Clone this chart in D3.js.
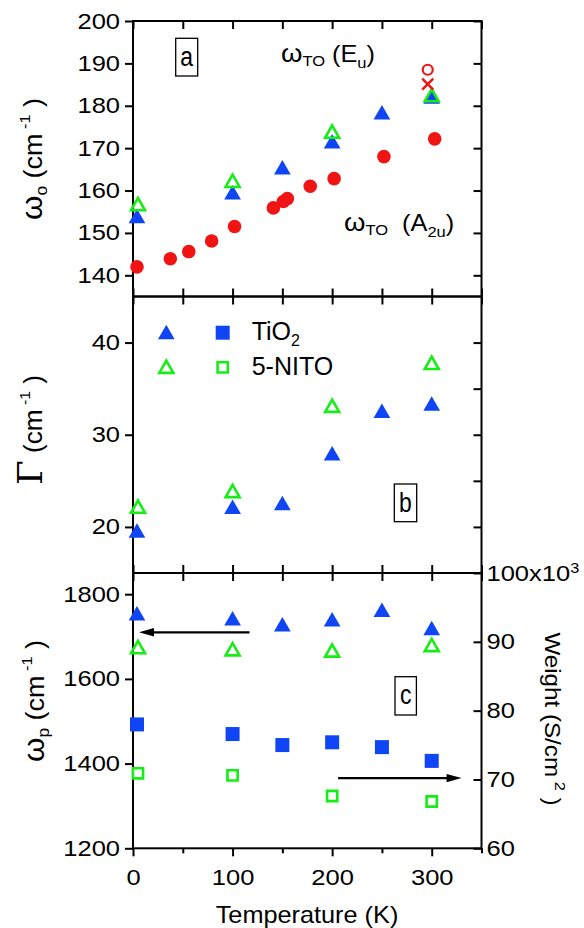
<!DOCTYPE html>
<html><head><meta charset="utf-8">
<script src="https://cdn.jsdelivr.net/npm/d3@7"></script>
<style>
body{margin:0;background:#fff}
svg{display:block}
text{font-family:"Liberation Sans",Arial,sans-serif;fill:#000}
</style>
</head><body><script>
// ---------- data ----------
const tempA2u = [4, 37.5, 56, 79, 102, 141, 151, 155, 178, 202, 252, 303];
const freqA2u = [142, 143.9, 145.6, 148.1, 151.5, 155.9, 157.4, 158.1, 161, 162.8, 168, 172.2];
const tempTiO2 = [4, 100, 150, 200, 250, 300];
const euTiO2 = [154, 159.6, 165.5, 171.6, 178.5, 182.2];
const tempNITO = [5, 100, 200, 300];
const euNITO = [156.8, 162.3, 173.9, 182.5];
const litCircle = [{t: 296, v: 188.5}];
const litCross = [{t: 296, v: 185.1}];
const gammaTiO2 = [19.6, 22.2, 22.6, 28.0, 32.6, 33.4];
const gammaNITO = [22.2, 23.9, 33.15, 37.8];
const wpTiO2 = [1755, 1743, 1729, 1741, 1763, 1720];
const wpNITO = [1675, 1670, 1667, 1680];
const weightTiO2 = [78.0, 76.6, 75.0, 75.4, 74.7, 72.7];
const weightNITO = [70.9, 70.6, 67.6, 66.8];
const xMajor = [0, 100, 200, 300];
const xMinor = [50, 150, 250, 350];
const xAll = [0, 50, 100, 150, 200, 250, 300, 350];
const ticksA = [140, 150, 160, 170, 180, 190, 200];
const ticksB = [20, 30, 40];
const ticksBRight = [20, 25, 30, 35, 40];
const ticksC = [1200, 1400, 1600, 1800];
const ticksW = [60, 70, 80, 90, 100];

// ---------- layout ----------
const W = 584, H = 928;
const L = 133, R = 481.5;
const svg = d3.select("body").append("svg").attr("width", W).attr("height", H);
svg.append("rect").attr("width", W).attr("height", H).attr("fill", "#fff");

const x = d3.scaleLinear().domain([0, 350]).range([L, R]);
const yA = d3.scaleLinear().domain([135, 200]).range([296.5, 21]);
const yB = d3.scaleLinear().domain([15, 45]).range([573, 296.5]);
const yC = d3.scaleLinear().domain([1200, 1850]).range([848.3, 573]);
const yW = d3.scaleLinear().domain([60, 100]).range([848.3, 573]);

const BLUE = "#0f45f5", GREEN = "#14ee14", RED = "#f01414";
const TS = 1.16; // horizontal stretch of tick text
const fmt = d3.format("d");

function styleAxis(g) {
  g.select(".domain").remove();
  g.selectAll(".tick line").attr("stroke", "#000").attr("stroke-width", 2);
  g.selectAll(".tick text").attr("font-size", 22).attr("fill", "#000")
    .attr("font-family", "Liberation Sans, Arial, sans-serif");
}

function panelFrame(yScale, top, bottom, leftTicks, rightTicks) {
  svg.append("g").attr("transform", `translate(0,${top})`)
    .call(d3.axisTop(x).tickValues(xAll).tickSize(-8).tickFormat("")).call(styleAxis);
  if (bottom < 848) {
    svg.append("g").attr("transform", `translate(0,${bottom})`)
      .call(d3.axisBottom(x).tickValues(xAll).tickSize(-8).tickFormat("")).call(styleAxis);
  }
  const gl = svg.append("g").attr("transform", `translate(${L},0)`)
    .call(d3.axisLeft(yScale).tickValues(leftTicks).tickSize(8).tickPadding(3.2).tickFormat(fmt))
    .call(styleAxis);
  gl.selectAll(".tick text").attr("transform", `scale(${TS},1)`);
  if (rightTicks) {
    svg.append("g").attr("transform", `translate(${R},0)`)
      .call(d3.axisRight(yScale).tickValues(rightTicks).tickSize(-8).tickFormat("")).call(styleAxis);
  }
  svg.append("rect").attr("x", L).attr("y", top).attr("width", R - L).attr("height", bottom - top)
    .attr("fill", "none").attr("stroke", "#000").attr("stroke-width", 2);
}

panelFrame(yA, 21, 296.5, ticksA, ticksA);
panelFrame(yB, 296.5, 573, ticksB, ticksBRight);
panelFrame(yC, 573, 848.3, ticksC, null);

// right weight axis
const gw = svg.append("g").attr("transform", `translate(${R},0)`)
  .call(d3.axisRight(yW).tickValues(ticksW).tickSize(-8).tickPadding(4.3).tickFormat(fmt))
  .call(styleAxis);
gw.selectAll(".tick text").attr("transform", `scale(${TS},1)`);
gw.selectAll(".tick text").filter(d => d === 100).text("100x10")
  .append("tspan").attr("dy", "-0.55em").attr("font-size", 14).text("3");

// bottom x axis
const gb = svg.append("g").attr("transform", "translate(0,848.3)")
  .call(d3.axisBottom(x).tickValues(xMajor).tickSize(8).tickPadding(13).tickFormat(fmt)).call(styleAxis);
gb.selectAll(".tick text").attr("transform", `scale(${TS},1)`);
svg.append("g").attr("transform", "translate(0,848.3)")
  .call(d3.axisBottom(x).tickValues(xMinor).tickSize(5).tickFormat("")).call(styleAxis);

// ---------- marker shapes ----------
function triPath(w, h) { return `M0,${-h / 2}L${w / 2},${h / 2}L${-w / 2},${h / 2}Z`; }
function sqPath(s) { return `M${-s / 2},${-s / 2}h${s}v${s}h${-s}Z`; }
const filledTri = triPath(16.7, 14.5);
const openTri = triPath(14, 12.3);
const filledSq = sqPath(14);
const openSq = sqPath(10.2);

function plot(ts, vs, yScale, d, fill, stroke) {
  svg.append("g").selectAll("path").data(ts.map((t, i) => ({t, v: vs[i]}))).join("path")
    .attr("transform", p => `translate(${x(p.t)},${yScale(p.v)})`)
    .attr("d", d)
    .attr("fill", fill).attr("stroke", stroke || "none").attr("stroke-width", stroke ? 2.6 : 0)
    .attr("stroke-linejoin", "miter");
}

// panel a
svg.append("g").selectAll("circle").data(tempA2u.map((t, i) => ({t, v: freqA2u[i]}))).join("circle")
  .attr("cx", p => x(p.t)).attr("cy", p => yA(p.v)).attr("r", 6.8).attr("fill", RED);
plot(tempTiO2, euTiO2, yA, filledTri, BLUE);
plot(tempNITO, euNITO, yA, openTri, "none", GREEN);
svg.append("g").selectAll("circle").data(litCircle).join("circle")
  .attr("cx", p => x(p.t)).attr("cy", p => yA(p.v)).attr("r", 5).attr("fill", "none")
  .attr("stroke", RED).attr("stroke-width", 2.2);
svg.append("g").selectAll("path").data(litCross).join("path")
  .attr("transform", p => `translate(${x(p.t)},${yA(p.v)})`)
  .attr("d", "M-5.5,-5.5L5.5,5.5M-5.5,5.5L5.5,-5.5")
  .attr("stroke", RED).attr("stroke-width", 2.5).attr("fill", "none");

// panel b
plot(tempTiO2, gammaTiO2, yB, filledTri, BLUE);
plot(tempNITO, gammaNITO, yB, openTri, "none", GREEN);

// panel c
plot(tempTiO2, wpTiO2, yC, filledTri, BLUE);
plot(tempNITO, wpNITO, yC, openTri, "none", GREEN);
plot(tempTiO2, weightTiO2, yW, filledSq, BLUE);
plot(tempNITO, weightNITO, yW, openSq, "none", GREEN);

// arrows
function arrow(t0, t1, yv, yScale) {
  const x0 = x(t0), x1 = x(t1), yy = yScale(yv);
  const dir = Math.sign(x1 - x0), len = 15;
  svg.append("line").attr("x1", x0).attr("x2", x1 - dir * len * 0.8).attr("y1", yy).attr("y2", yy)
    .attr("stroke", "#000").attr("stroke-width", 2.2);
  svg.append("path").attr("d", `M${x1},${yy}L${x1 - dir * len},${yy - 4.2}L${x1 - dir * len},${yy + 4.2}Z`)
    .attr("fill", "#000");
}
arrow(117, 6, 1710, yC);
arrow(206, 330, 70.2, yW);

// ---------- annotations ----------
function boxLabel(bx, by, bw, bh, letter, base) {
  svg.append("rect").attr("x", bx).attr("y", by).attr("width", bw).attr("height", bh)
    .attr("fill", "none").attr("stroke", "#000").attr("stroke-width", 1.3);
  svg.append("text").attr("transform", `translate(${bx + bw / 2},${base}) scale(0.85,1)`)
    .attr("text-anchor", "middle").attr("font-size", 27).text(letter);
}
boxLabel(175.7, 38.3, 22, 37.7, "a", 65.5);
boxLabel(394.3, 484, 22.4, 37.7, "b", 511.7);
boxLabel(395, 676.7, 21.4, 38.3, "c", 703.5);

function modeLabel(tx, ty, parts) {
  const t = svg.append("text").attr("transform", `translate(${tx},${ty}) scale(1.1,1)`);
  parts.forEach(p => t.append("tspan").attr("font-size", p.s).attr("dy", p.dy || 0).attr("fill", "#000").text(p.t));
  return t;
}
modeLabel(281, 62, [
  {t: "ω", s: 25}, {t: "TO", s: 15, dy: 4}, {t: " (E", s: 23, dy: -4},
  {t: "u", s: 15, dy: 6}, {t: ")", s: 23, dy: -6}]);
modeLabel(344, 231, [
  {t: "ω", s: 25}, {t: "TO", s: 15, dy: 4}, {t: "\u00a0\u00a0(A", s: 23, dy: -4},
  {t: "2u", s: 15, dy: 6}, {t: ")", s: 23, dy: -6}]);

// legend
const legY1 = 332, legY2 = 366.7;
svg.append("path").attr("transform", `translate(166.3,${legY1})`).attr("d", filledTri).attr("fill", BLUE);
svg.append("path").attr("transform", `translate(222.7,${legY1 + 0.7})`).attr("d", filledSq).attr("fill", BLUE);
svg.append("path").attr("transform", `translate(166.3,${legY2})`).attr("d", openTri)
  .attr("fill", "none").attr("stroke", GREEN).attr("stroke-width", 2.6);
svg.append("path").attr("transform", `translate(222.7,${legY2 + 0.7})`).attr("d", openSq)
  .attr("fill", "none").attr("stroke", GREEN).attr("stroke-width", 2.6);
const l1 = svg.append("text").attr("x", 251.7).attr("y", 340).attr("font-size", 25);
l1.append("tspan").text("TiO");
l1.append("tspan").attr("font-size", 16).attr("dy", 6).text("2");
svg.append("text").attr("x", 251.7).attr("y", 375).attr("font-size", 25).text("5-NITO");

// axis titles
function yTitle(tx, ty, rot, parts, sc) {
  const t = svg.append("text").attr("transform", `translate(${tx},${ty}) rotate(${rot}) scale(${sc},1)`)
    .attr("text-anchor", "middle").attr("fill", "#000");
  parts.forEach(p => {
    const s = t.append("tspan").attr("font-size", p.s).attr("dy", p.dy || 0).attr("fill", "#000").text(p.t);
    if (p.f) s.attr("font-family", p.f);
  });
}
yTitle(41.5, 159, -90, [
  {t: "ω", s: 29}, {t: "o", s: 16, dy: 5}, {t: " (cm", s: 25, dy: -5},
  {t: " -1", s: 15, dy: -12}, {t: " )", s: 25, dy: 12}], 1.08);
yTitle(42, 430, -90, [
  {t: "Γ", s: 34, f: "DejaVu Serif, Liberation Serif, serif"}, {t: " (cm", s: 25},
  {t: " -1", s: 15, dy: -12}, {t: " )", s: 25, dy: 12}], 1.05);
yTitle(44, 701, -90, [
  {t: "ω", s: 29}, {t: "p", s: 16, dy: 5}, {t: " (cm", s: 25, dy: -5},
  {t: " -1", s: 15, dy: -12}, {t: " )", s: 25, dy: 12}], 1.08);
yTitle(545, 719, 90, [
  {t: "Weight (S/cm", s: 22}, {t: " 2", s: 15, dy: -10}, {t: " )", s: 22, dy: 10}], 1.1);

svg.append("text").attr("transform", "translate(307,923) scale(1.1,1)")
  .attr("text-anchor", "middle").attr("font-size", 23).text("Temperature (K)");
</script></body></html>
